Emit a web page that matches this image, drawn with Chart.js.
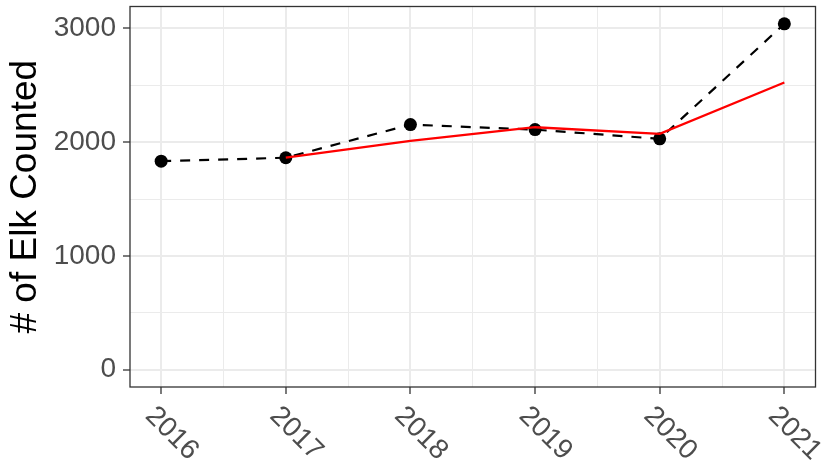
<!DOCTYPE html>
<html><head><meta charset="utf-8">
<script src="https://cdn.jsdelivr.net/npm/chart.js@4/dist/chart.umd.min.js"></script>
<style>html,body{margin:0;padding:0;background:#fff}#wrap{width:822px;height:463px}</style>
</head><body><div id="wrap"><canvas id="c" width="822" height="463"></canvas></div>
<script>
const years = [2016, 2017, 2018, 2019, 2020, 2021];
const elkCounts = [1833, 1863, 2154, 2110, 2029, 3040];
const trendValues = [null, 1863, 2012, 2131, 2073, 2524];
const yTickValues = [0, 1000, 2000, 3000];
const yAxisTitle = '# of Elk Counted';

const FONT = '"Liberation Sans", Arial, sans-serif';
const xMinor = years.slice(0, -1).map(v => v + 0.5);
const yMinor = yTickValues.slice(0, -1).map(v => v + 500);
const isMajorX = v => years.includes(v);
const isMajorY = v => yTickValues.includes(v);

const customDraw = {
  id: 'customDraw',
  afterDatasetsDraw(chart) {
    const {ctx, chartArea: a} = chart;
    ctx.save();
    ctx.strokeStyle = '#333333';
    ctx.lineWidth = 1.3;
    ctx.strokeRect(a.left, a.top, a.right - a.left, a.bottom - a.top);
    ctx.restore();
  },
  afterDraw(chart) {
    const xs = chart.scales.x;
    const ctx = chart.ctx;
    ctx.save();
    ctx.font = '28px ' + FONT;
    ctx.fillStyle = '#4D4D4D';
    ctx.textAlign = 'left';
    ctx.textBaseline = 'alphabetic';
    years.forEach(y => {
      const px = xs.getPixelForValue(y);
      ctx.save();
      ctx.translate(px - 17, chart.chartArea.bottom + 30);
      ctx.rotate(Math.PI / 4);
      ctx.fillText(String(y), 0, 0);
      ctx.restore();
    });
    ctx.restore();
  }
};

new Chart(document.getElementById('c'), {
  type: 'line',
  data: {
    datasets: [
      {
        label: 'Trend',
        data: years.map((x, i) => ({x, y: trendValues[i]})),
        borderColor: '#FF0000',
        borderWidth: 2.3,
        pointRadius: 0,
        fill: false,
        tension: 0
      },
      {
        label: 'Count',
        data: years.map((x, i) => ({x, y: elkCounts[i]})),
        borderColor: '#000000',
        borderDash: [10, 9],
        borderWidth: 2.2,
        pointRadius: 6.5,
        pointBackgroundColor: '#000000',
        pointBorderWidth: 0,
        fill: false,
        tension: 0
      }
    ]
  },
  options: {
    responsive: false,
    animation: false,
    devicePixelRatio: 1,
    layout: {padding: {left: 0, right: 6, top: 5, bottom: 0}},
    plugins: {legend: {display: false}, tooltip: {enabled: false}},
    scales: {
      x: {
        type: 'linear',
        min: 2015.75,
        max: 2021.25,
        afterBuildTicks: s => { s.ticks = years.concat(xMinor).sort((a, b) => a - b).map(v => ({value: v})); },
        afterFit: s => { s.height = 76; s.paddingLeft = 0; s.paddingRight = 0; },
        ticks: {display: false, autoSkip: false},
        border: {display: false},
        grid: {
          color: '#EBEBEB',
          lineWidth: c => isMajorX(c.tick.value) ? 2 : 1,
          tickColor: c => isMajorX(c.tick.value) ? '#333333' : 'rgba(0,0,0,0)',
          tickWidth: 1.3,
          tickLength: 7,
          drawTicks: true
        }
      },
      y: {
        type: 'linear',
        min: -152,
        max: 3192,
        afterBuildTicks: s => { s.ticks = yTickValues.concat(yMinor).sort((a, b) => a - b).map(v => ({value: v})); },
        afterFit: s => { s.width = 130; s.paddingTop = 0; s.paddingBottom = 0; },
        ticks: {
          autoSkip: false,
          color: '#4D4D4D',
          font: {family: FONT, size: 28},
          padding: 7,
          callback: v => isMajorY(v) ? String(v) : ''
        },
        border: {display: false},
        title: {
          display: true,
          text: yAxisTitle,
          color: '#000000',
          font: {family: FONT, size: 37},
          padding: {top: 4, bottom: 0}
        },
        grid: {
          color: '#EBEBEB',
          lineWidth: c => isMajorY(c.tick.value) ? 2 : 1,
          tickColor: c => isMajorY(c.tick.value) ? '#333333' : 'rgba(0,0,0,0)',
          tickWidth: 1.3,
          tickLength: 7,
          drawTicks: true
        }
      }
    }
  },
  plugins: [customDraw]
});
</script>
</body></html>
